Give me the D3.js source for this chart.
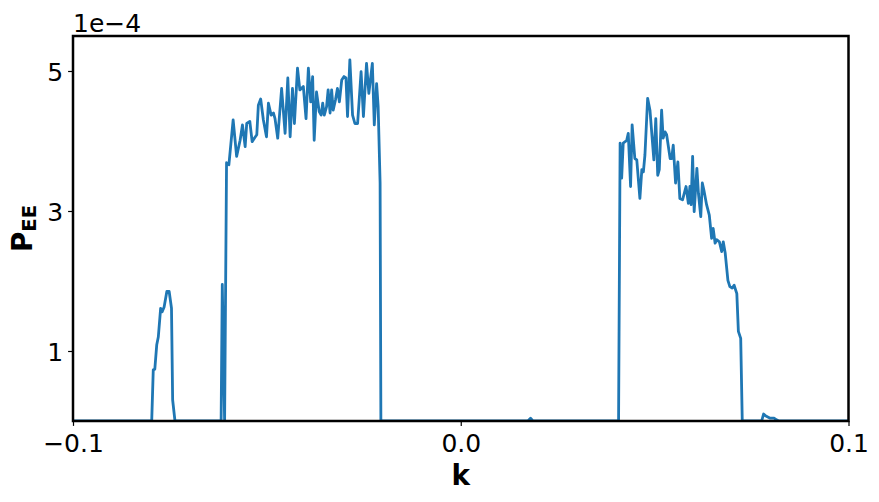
<!DOCTYPE html>
<html><head><meta charset="utf-8">
<script src="https://cdn.jsdelivr.net/npm/d3@7"></script>
<style>
body{margin:0;background:#fff}
svg{display:block}
text{font-family:"DejaVu Sans",sans-serif;fill:#000}
</style>
</head><body>
<svg id="c" width="879" height="502"></svg>
<script>
// wavenumber k
const k = [
  -0.1, -0.0797, -0.0793, -0.0789, -0.0784, -0.0780, -0.0774, -0.0770, -0.0765, -0.0758, -0.0752, -0.0746, -0.0743, -0.0737,
  -0.0618, -0.0615, -0.0609, -0.0604, -0.0598, -0.0587, -0.0578, -0.0569, -0.0563, -0.0556, -0.0552, -0.0544, -0.0538, -0.0531, -0.0526,
  -0.0522, -0.0516, -0.0509, -0.0501, -0.0496, -0.0489, -0.0483, -0.0479, -0.0472, -0.0462, -0.0453, -0.0446, -0.0440, -0.0434, -0.0429,
  -0.0421, -0.0415, -0.0406, -0.0399, -0.0393, -0.0387, -0.0382, -0.0378, -0.0372, -0.0365, -0.0360, -0.0356, -0.0352, -0.0346, -0.0342,
  -0.0337, -0.0333, -0.0329, -0.0323, -0.0318, -0.0313, -0.0307, -0.0301, -0.0296, -0.0292, -0.0286, -0.0279, -0.0273, -0.0266, -0.0257,
  -0.0251, -0.0243, -0.0237, -0.0228, -0.0223, -0.0217, -0.0213, -0.0208, -0.0206,
  0.0173, 0.0180, 0.0186,
  0.0407, 0.0411, 0.0415, 0.0419, 0.0424, 0.0428, 0.0432, 0.0438, 0.0442, 0.0449, 0.0454, 0.0462, 0.0467, 0.0471, 0.0475,
  0.0482, 0.0488, 0.0498, 0.0503, 0.0508, 0.0512, 0.0518, 0.0522, 0.0527, 0.0531, 0.0540, 0.0544, 0.0548, 0.0554, 0.0560,
  0.0565, 0.0572, 0.0581, 0.0587, 0.0591, 0.0594, 0.0598, 0.0602, 0.0609, 0.0613, 0.0619, 0.0623, 0.0627, 0.0634, 0.0641,
  0.0647, 0.0651, 0.0656, 0.0660, 0.0667, 0.0673, 0.0677, 0.0682, 0.0689, 0.0694, 0.0700, 0.0705, 0.0712, 0.0716, 0.0722, 0.0726,
  0.0776, 0.0781, 0.0787, 0.0798, 0.0808, 0.0813, 0.0821, 0.1
];
// P_EE in units of 1e-4
const pee = [
  0, 0, 0.73, 0.74, 1.09, 1.20, 1.61, 1.56, 1.63, 1.85, 1.85, 1.61, 0.30, 0,
  0, 1.95, 0, 3.69, 3.66, 4.30, 3.78, 4.01, 4.23, 3.92, 4.25, 4.28, 3.99, 4.05, 4.09,
  4.51, 4.60, 4.30, 4.06, 4.54, 4.37, 4.40, 4.32, 4.04, 4.75, 4.11, 4.90, 4.06, 4.75, 4.25,
  5.04, 4.73, 4.78, 4.32, 5.04, 4.56, 4.92, 4.01, 4.70, 4.42, 4.37, 4.54, 4.37, 4.49, 4.73,
  4.40, 4.73, 4.44, 4.59, 4.75, 4.56, 4.87, 4.92, 4.90, 4.35, 5.16, 4.37, 4.25, 4.25, 4.99,
  4.35, 5.11, 4.68, 5.11, 4.23, 4.82, 4.49, 3.40, 0,
  0, 0.04, 0,
  0, 3.97, 3.47, 3.97, 3.99, 4.01, 4.11, 3.35, 4.23, 3.75, 3.73, 3.18, 3.59, 3.56, 3.80,
  4.61, 4.44, 3.73, 4.32, 3.51, 3.59, 4.44, 4.04, 4.13, 4.09, 3.75, 3.75, 3.94, 3.40, 3.70,
  3.18, 3.16, 3.35, 3.11, 3.35, 3.09, 3.78, 2.99, 3.61, 3.25, 2.92, 3.40, 3.30, 3.09, 2.94,
  2.61, 2.75, 2.54, 2.59, 2.56, 2.42, 2.56, 2.40, 2.01, 1.92, 1.90, 1.94, 1.82, 1.28, 1.18, 0,
  0, 0.10, 0.07, 0.04, 0.04, 0.02, 0, 0
];
const xTicks = [-0.1, 0.0, 0.1];
const xTickLabels = ["\u22120.1", "0.0", "0.1"];
const yTicks = [1, 3, 5];
const yTickLabels = ["1", "3", "5"];
const offsetLabel = "1e\u22124";
const xLabel = "k";
const yLabelMain = "P";
const yLabelSub = "EE";

const data = k.map((v, i) => ({k: v, p: pee[i]}));

const W = 879, H = 502;
const m = {l: 73, r: 30.5, t: 36, b: 81};
const svg = d3.select("#c");

const x = d3.scaleLinear().domain([-0.1, 0.1]).range([m.l, W - m.r]);
const y = d3.scaleLinear().domain([0, 5.5]).range([H - m.b, m.t]);

svg.append("defs").append("clipPath").attr("id", "clip")
  .append("rect").attr("x", m.l).attr("y", m.t)
  .attr("width", W - m.r - m.l).attr("height", H - m.b - m.t);

svg.append("path").datum(data)
  .attr("clip-path", "url(#clip)")
  .attr("fill", "none").attr("stroke", "#1f77b4").attr("stroke-width", 2.8)
  .attr("stroke-linejoin", "round")
  .attr("d", d3.line().x(d => x(d.k)).y(d => y(d.p)));

// x axis
const gx = svg.append("g").attr("transform", `translate(0,${H - m.b})`)
  .call(d3.axisBottom(x).tickValues(xTicks).tickFormat((d, i) => xTickLabels[i]).tickSize(4.9).tickSizeOuter(0));
gx.select(".domain").remove();
gx.selectAll(".tick line").attr("stroke", "#000").attr("stroke-width", 1.2);
gx.selectAll(".tick text").attr("y", 31).attr("dy", 0).attr("font-size", "25px")
  .attr("font-family", "DejaVu Sans").attr("fill", "#000");

// y axis
const gy = svg.append("g").attr("transform", `translate(${m.l},0)`)
  .call(d3.axisLeft(y).tickValues(yTicks).tickFormat((d, i) => yTickLabels[i]).tickSize(4.9).tickSizeOuter(0));
gy.select(".domain").remove();
gy.selectAll(".tick line").attr("stroke", "#000").attr("stroke-width", 1.2);
gy.selectAll(".tick text").attr("x", -9.8).attr("dy", "0.365em").attr("font-size", "25px")
  .attr("font-family", "DejaVu Sans").attr("fill", "#000");

// frame
svg.append("rect").attr("x", m.l).attr("y", m.t)
  .attr("width", W - m.r - m.l).attr("height", H - m.b - m.t)
  .attr("fill", "none").attr("stroke", "#000").attr("stroke-width", 2.5);

// offset text
svg.append("text").attr("x", m.l).attr("y", 32).attr("font-size", "25px").text(offsetLabel);

// x label
svg.append("text").attr("x", (m.l + W - m.r) / 2).attr("y", 485)
  .attr("text-anchor", "middle").attr("font-size", "27.8px").attr("font-weight", "bold").text(xLabel);

// y label
const yl = svg.append("text")
  .attr("transform", `translate(32,${(m.t + H - m.b) / 2}) rotate(-90)`)
  .attr("text-anchor", "middle").attr("font-size", "27.8px").attr("font-weight", "bold");
yl.append("tspan").text(yLabelMain);
yl.append("tspan").attr("font-size", "19.5px").attr("dy", 4).text(yLabelSub);
</script>
</body></html>
